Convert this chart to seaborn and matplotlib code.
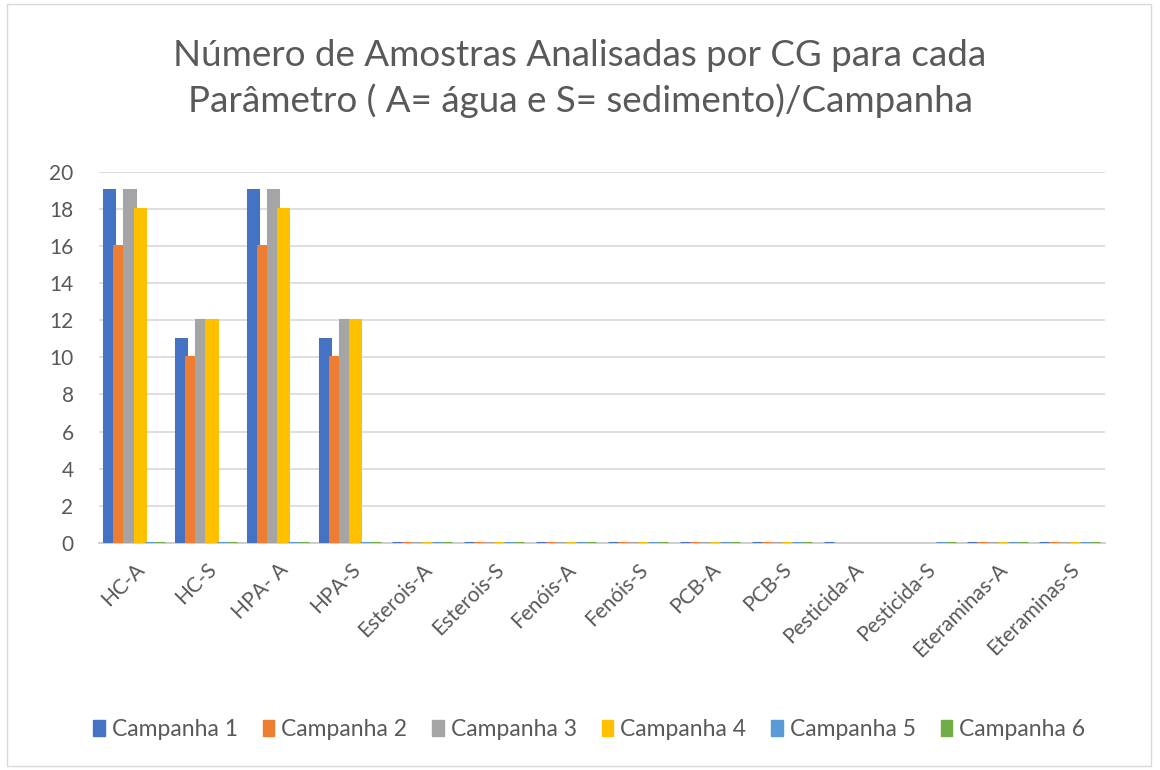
import numpy as np
import pandas as pd
import seaborn as sns
import matplotlib.pyplot as plt
from matplotlib.patches import Rectangle, Patch

# Data
categorias = ['HC-A', 'HC-S', 'HPA- A', 'HPA-S', 'Esterois-A', 'Esterois-S',
              'Fenóis-A', 'Fenóis-S', 'PCB-A', 'PCB-S', 'Pesticida-A',
              'Pesticida-S', 'Eteraminas-A', 'Eteraminas-S']
campanhas = ['Campanha 1', 'Campanha 2', 'Campanha 3',
             'Campanha 4', 'Campanha 5', 'Campanha 6']
nan = np.nan
campanha_1 = [19, 11, 19, 11, 0, 0, 0, 0, 0, 0, 0, nan, 0, 0]
campanha_2 = [16, 10, 16, 10, 0, 0, 0, 0, 0, 0, nan, nan, 0, 0]
campanha_3 = [19, 12, 19, 12, 0, 0, 0, 0, 0, 0, nan, nan, 0, 0]
campanha_4 = [18, 12, 18, 12, 0, 0, 0, 0, 0, 0, nan, nan, 0, 0]
campanha_5 = [0, 0, 0, 0, 0, 0, 0, 0, 0, 0, nan, 0, 0, 0]
campanha_6 = [0, 0, 0, 0, 0, 0, 0, 0, 0, 0, nan, 0, 0, 0]
cores = ['#4472C4', '#ED7D31', '#A5A5A5', '#FFC000', '#5B9BD5', '#70AD47']

series = [campanha_1, campanha_2, campanha_3, campanha_4, campanha_5, campanha_6]
df = pd.DataFrame({
    'Parametro': categorias * len(campanhas),
    'Campanha': np.repeat(campanhas, len(categorias)),
    'Amostras': np.concatenate(series),
})

sns.set_style('white')
plt.rcParams['font.family'] = ['Lato', 'DejaVu Sans']
texto = '#595959'

fig = plt.figure(figsize=(11.6, 7.7), dpi=100)
ax = fig.add_axes([0.085, 0.295, 0.868, 0.482])

sns.barplot(data=df, x='Parametro', y='Amostras', hue='Campanha',
            hue_order=campanhas, order=categorias, palette=cores,
            saturation=1, width=0.84, errorbar=None, ax=ax, legend=False)

# zero values still show as a thin slab, like the original chart
for p in ax.patches:
    p.set_edgecolor(p.get_facecolor())
    p.set_linewidth(2.2)
    p.set_zorder(3)

ax.set_ylim(0, 20)
ax.set_yticks(range(0, 21, 2))
ax.yaxis.grid(True, color='#d9d9d9', linewidth=1.2)
ax.set_axisbelow(True)
for s in ['top', 'right', 'left']:
    ax.spines[s].set_visible(False)
ax.spines['bottom'].set_color('#c8c8c8')
ax.spines['bottom'].set_linewidth(1.2)
ax.tick_params(axis='y', length=0, labelsize=15, colors=texto, pad=18)
ax.tick_params(axis='x', length=0, labelsize=15, colors=texto, pad=12)
plt.setp(ax.get_xticklabels(), rotation=45, ha='right', rotation_mode='anchor')
ax.set_xlabel('')
ax.set_ylabel('')

fig.text(0.5, 0.898, 'Número de Amostras Analisadas por CG para cada\n'
         'Parâmetro ( A= água e S= sedimento)/Campanha',
         ha='center', va='center', fontsize=26.5, color=texto, linespacing=1.38)

handles = [Patch(facecolor=c, edgecolor=c) for c in cores]
fig.legend(handles, campanhas, loc='center', bbox_to_anchor=(0.508, 0.052),
           ncol=6, frameon=False, fontsize=16.5, labelcolor=texto,
           handlelength=0.5, handleheight=0.7, handletextpad=0.3,
           columnspacing=1.1)

fig.patches.append(Rectangle((0.006, 0.005), 0.986, 0.99, transform=fig.transFigure,
                             fill=False, edgecolor='#d9d9d9', linewidth=1))

plt.savefig('out.png', dpi=100)
